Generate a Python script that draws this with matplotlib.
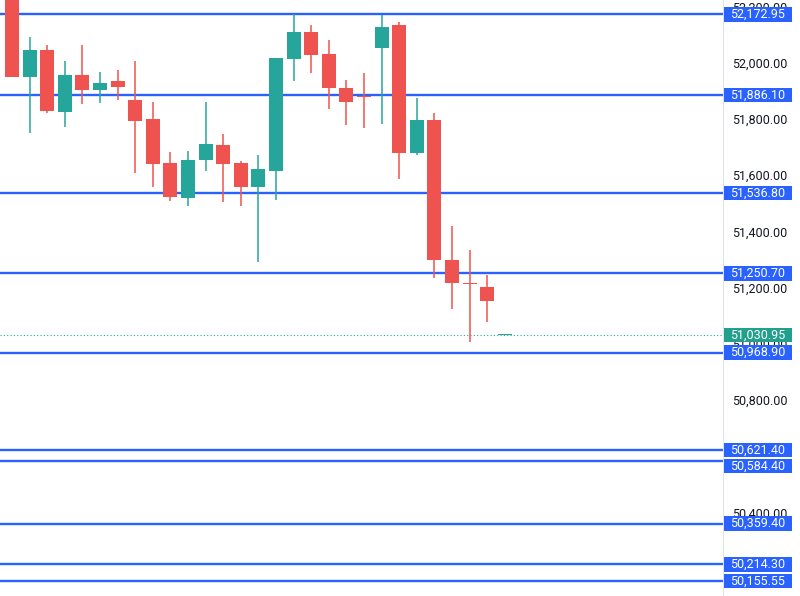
import numpy as np
import matplotlib
matplotlib.use("Agg")
import matplotlib.pyplot as plt
from matplotlib.patches import Rectangle

plt.rcParams['font.family'] = ['Roboto', 'DejaVu Sans']

# candle data (oldest first)
opens = [52230, 51951, 52046, 51826, 51957, 51902, 51936, 51868, 51800, 51642,
         51520, 51653, 51709, 51642, 51559, 51615, 52015, 52110, 52031, 51910,
         51879, 52052, 52135, 51679, 51798, 51298, 51214, 51202, 51031]
closes = [51951, 52046, 51828, 51957, 51902, 51929, 51914, 51792, 51641, 51523,
          51654, 51712, 51641, 51558, 51622, 52016, 52110, 52028, 51911, 51861,
          51878, 52129, 51679, 51798, 51297, 51215, 51212, 51152, 51031]
highs = [52240, 52091, 52063, 52007, 52065, 51967, 51976, 52007, 51861, 51682,
         51687, 51861, 51747, 51650, 51673, 52016, 52175, 52136, 52080, 51939,
         51965, 52172, 52146, 51874, 51823, 51420, 51334, 51244, 51031]
lows = [51949, 51751, 51820, 51773, 51852, 51858, 51868, 51609, 51557, 51507,
        51492, 51616, 51504, 51492, 51292, 51512, 51937, 51963, 51836, 51779,
        51767, 51782, 51585, 51673, 51233, 51123, 51005, 51079, 51031]

levels = [52172.95, 51886.10, 51536.80, 51250.70, 50968.90,
          50621.40, 50584.40, 50359.40, 50214.30, 50155.55]
last_price = 51030.95
# scale ticks that show (50,600 and 50,200 sit fully under price labels)
ticks = [52200, 52000, 51800, 51600, 51400, 51200, 51000, 50800, 50400]

up_col = '#26a69a'
down_col = '#ef5350'
blue = '#2962ff'

o = np.array(opens, dtype=float)
c = np.array(closes, dtype=float)
h = np.array(highs, dtype=float)
l = np.array(lows, dtype=float)
x = np.arange(len(o))
cols = [up_col if cc >= oo else down_col for oo, cc in zip(o, c)]

fig = plt.figure(figsize=(8, 5.96), dpi=100)
ax = fig.add_axes([0, 0, 723 / 800, 1])

for lv in levels:
    ax.axhline(lv, color=blue, lw=1.7, zorder=1)
ax.axhline(last_price, color=up_col, lw=0.8, ls=(0, (1, 2)), zorder=1)

ax.vlines(x, l, h, colors=cols, lw=1.1, zorder=2)
body = np.maximum(np.abs(c - o), 4)
ax.bar(x, body, bottom=np.minimum(o, c), width=0.8, color=cols, zorder=2)

ax.set_xlim(-0.68, 40.4)
ax.set_ylim(50102, 52224)

ax.yaxis.tick_right()
ax.set_yticks(ticks)
ax.set_yticklabels(['{:,.2f}'.format(t) for t in ticks])
ax.tick_params(axis='y', length=0, pad=6.5, labelsize=9, labelcolor='#131722')
ax.set_xticks([])
for s in ['top', 'left', 'bottom']:
    ax.spines[s].set_visible(False)
ax.spines['right'].set_color('#e0e3eb')

# price labels on the scale, stacked so they don't overlap
tr = ax.get_yaxis_transform()
px = (52224 - 50102) / 596.0
box_h = 14.5 * px
x0, x1 = 724 / 723.0, 792 / 723.0


def price_label(y, val, fc, z):
    ax.add_patch(Rectangle((x0, y - box_h / 2), x1 - x0, box_h, transform=tr,
                           fc=fc, ec='none', clip_on=False, zorder=z))
    ax.text((x0 + x1) / 2, y, '{:,.2f}'.format(val), transform=tr, ha='center',
            va='center', fontsize=9, color='white', clip_on=False, zorder=z + 0.5)


prev = None
for lv in sorted(levels, reverse=True):
    y = lv
    if prev is not None and prev - y < box_h + 1.5 * px:
        y = prev - box_h - 1.5 * px
    price_label(y, lv, blue, 5)
    prev = y
price_label(last_price, last_price, '#22a08c', 6)

plt.savefig('out.png', dpi=100)
